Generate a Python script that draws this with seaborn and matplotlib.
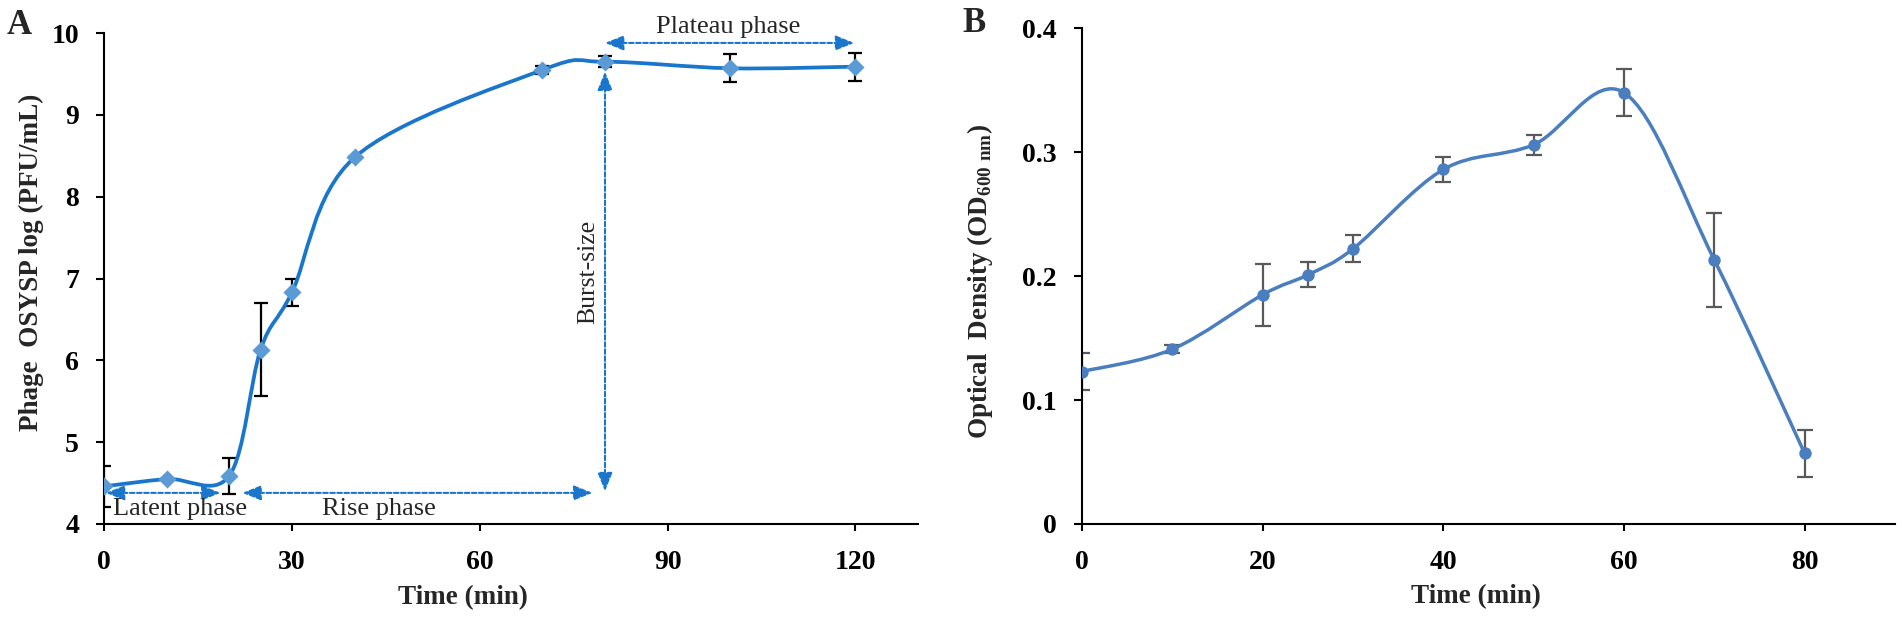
import numpy as np
import matplotlib
matplotlib.use("Agg")
import matplotlib.pyplot as plt
import seaborn as sns
from matplotlib.path import Path
from matplotlib.patches import PathPatch

# Panel A: one-step growth curve of phage OSYSP
time_a = [0, 10, 20, 25, 30, 40, 70, 80, 100, 120]
titer_a = [4.46, 4.55, 4.59, 6.13, 6.83, 8.48, 9.55, 9.65, 9.57, 9.59]
err_a = [0.25, 0.0, 0.22, 0.57, 0.17, 0.0, 0.05, 0.07, 0.17, 0.17]

# Panel B: optical density of host culture
time_b = [0, 10, 20, 25, 30, 40, 50, 60, 70, 80]
od_b = [0.123, 0.141, 0.185, 0.201, 0.222, 0.286, 0.306, 0.348, 0.213, 0.057]
err_b = [0.015, 0.003, 0.025, 0.010, 0.011, 0.010, 0.008, 0.019, 0.038, 0.019]

sns.set_style("ticks")
plt.rcParams["font.family"] = ["Liberation Serif", "DejaVu Serif"]
plt.rcParams["mathtext.fontset"] = "custom"
plt.rcParams["mathtext.rm"] = "Liberation Serif"
plt.rcParams["mathtext.bf"] = "Liberation Serif:bold"

LINE_A = "#1a76cc"
MARK_A = "#5b9bd5"
COL_B = "#4a7ebf"


def smooth_patch(xs, ys, color, lw):
    # Excel-style smoothed line: cubic Bezier segments through the points
    pts = np.column_stack([xs, ys]).astype(float)
    verts = [pts[0]]
    codes = [Path.MOVETO]
    n = len(pts)
    for i in range(n - 1):
        p0 = pts[i - 1] if i > 0 else pts[i]
        p1, p2 = pts[i], pts[i + 1]
        p3 = pts[i + 2] if i + 2 < n else p2
        verts += [p1 + (p2 - p0) / 6, p2 - (p3 - p1) / 6, p2]
        codes += [Path.CURVE4] * 3
    return PathPatch(Path(verts, codes), facecolor="none", edgecolor=color,
                     lw=lw, capstyle="round", joinstyle="round", zorder=3)


def style_axes(ax):
    sns.despine(ax=ax)
    for s in ["left", "bottom"]:
        ax.spines[s].set_color("black")
        ax.spines[s].set_linewidth(1.5)
    ax.tick_params(direction="out", width=1.5, labelsize=20, colors="black")
    ax.tick_params(axis="x", length=5, pad=14)
    ax.tick_params(axis="y", length=6, pad=12)
    for lab in ax.get_xticklabels() + ax.get_yticklabels():
        lab.set_fontweight("bold")


def darrow(ax, x0, y0, x1, y1):
    ax.annotate("", xy=(x1, y1), xytext=(x0, y0),
                arrowprops=dict(arrowstyle="<|-|>,head_length=0.8,head_width=0.32",
                                mutation_scale=14, color=LINE_A, lw=1.5,
                                linestyle=(0, (2.2, 1.2)),
                                shrinkA=0, shrinkB=0),
                annotation_clip=False)


fig = plt.figure(figsize=(19.02, 6.19), dpi=100)

# ---------------- Panel A ----------------
ax1 = fig.add_axes([0.0547, 0.1535, 0.428, 0.793])
ax1.errorbar(time_a, titer_a, yerr=err_a, fmt="none", ecolor="black",
             elinewidth=1.6, capsize=5, capthick=1.6, zorder=2)
ax1.add_patch(smooth_patch(time_a, titer_a, LINE_A, 2.7))
sns.scatterplot(x=time_a, y=titer_a, marker="D", s=85, color=MARK_A,
                edgecolor=MARK_A, linewidth=0, ax=ax1, zorder=4)
ax1.set_xlim(0, 130)
ax1.set_ylim(4, 10)
ax1.set_xticks([0, 30, 60, 90, 120])
ax1.set_yticks(range(4, 11))
style_axes(ax1)
ax1.set_xlabel("Time (min)", fontsize=19.5, fontweight="bold")
ax1.set_ylabel("Phage  OSYSP log (PFU/mL)", fontsize=19.5, fontweight="bold")
ax1.xaxis.set_label_coords(0.441, -0.149)
ax1.xaxis.label.set_va("center")
ax1.yaxis.set_label_coords(-0.089, 0.533)
ax1.yaxis.label.set_va("center")

darrow(ax1, 0.3, 4.38, 18.6, 4.38)
darrow(ax1, 22.1, 4.38, 78.0, 4.38)
darrow(ax1, 80, 4.40, 80, 9.53)
darrow(ax1, 80, 9.88, 119.8, 9.88)
ax1.text(12.2, 4.18, "Latent phase", fontsize=19, ha="center", va="center")
ax1.text(43.9, 4.18, "Rise phase", fontsize=19, ha="center", va="center")
ax1.text(77.3, 7.08, "Burst-size", fontsize=18.5, ha="center", va="center",
         rotation=90)
ax1.text(99.6, 10.08, "Plateau phase", fontsize=19, ha="center", va="center",
         clip_on=False)
fig.text(0.0037, 0.945, "A", fontsize=25, fontweight="bold", va="baseline")

# ---------------- Panel B ----------------
ax2 = fig.add_axes([0.5689, 0.1535, 0.4274, 0.801])
ax2.errorbar(time_b, od_b, yerr=err_b, fmt="none", ecolor="#595959",
             elinewidth=1.6, capsize=6, capthick=1.6, zorder=2)
ax2.add_patch(smooth_patch(time_b, od_b, COL_B, 2.5))
sns.scatterplot(x=time_b, y=od_b, marker="o", s=80, color=COL_B,
                edgecolor=COL_B, linewidth=0, ax=ax2, zorder=4)
ax2.set_xlim(0, 90)
ax2.set_ylim(0, 0.4)
ax2.set_xticks([0, 20, 40, 60, 80])
ax2.set_yticks([0, 0.1, 0.2, 0.3, 0.4])
ax2.set_yticklabels(["0", "0.1", "0.2", "0.3", "0.4"])
style_axes(ax2)
ax2.set_xlabel("Time (min)", fontsize=19.5, fontweight="bold")
ax2.set_ylabel(r"Optical  Density (OD$_{\mathbf{600\ nm}}$)", fontsize=19.5,
               fontweight="bold")
ax2.xaxis.set_label_coords(0.485, -0.147)
ax2.xaxis.label.set_va("center")
ax2.yaxis.set_label_coords(-0.125, 0.489)
ax2.yaxis.label.set_va("center")
fig.text(0.506, 0.949, "B", fontsize=25, fontweight="bold", va="baseline")

fig.savefig("out.png", dpi=100)
